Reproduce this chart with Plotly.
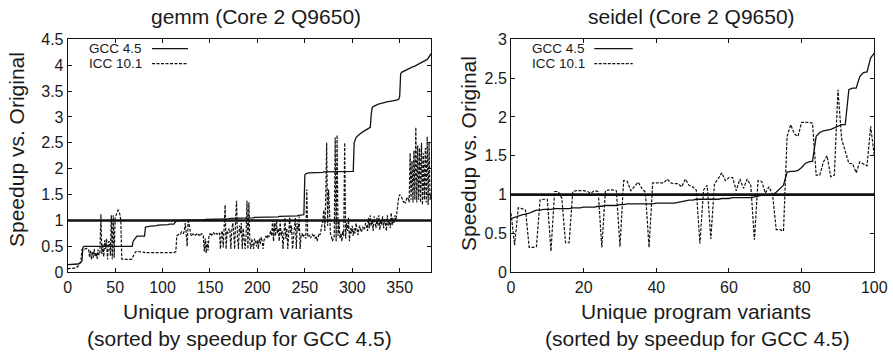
import plotly.graph_objects as go

# ---------------- data: gemm (Core 2 Q9650) ----------------
gemm_gcc = [
    0.15,0.15,0.15,0.15,0.15,0.15,0.15,0.15,0.15,0.15,0.15,0.16,0.17,0.18,0.20,0.22,0.48,0.50,0.50,0.50,
    0.50,0.50,0.50,0.50,0.50,0.50,0.50,0.50,0.50,0.50,0.50,0.50,0.50,0.50,0.50,0.50,0.50,0.50,0.50,0.50,
    0.50,0.50,0.50,0.50,0.50,0.50,0.50,0.50,0.50,0.50,0.50,0.50,0.50,0.50,0.50,0.50,0.50,0.50,0.50,0.50,
    0.50,0.50,0.50,0.50,0.50,0.50,0.50,0.50,0.50,0.60,0.63,0.66,0.69,0.70,0.70,0.70,0.70,0.70,0.70,0.70,
    0.70,0.70,0.87,0.88,0.88,0.88,0.89,0.89,0.89,0.89,0.90,0.90,0.90,0.90,0.90,0.91,0.91,0.91,0.91,0.91,
    0.91,0.92,0.92,0.92,0.92,0.92,0.92,0.93,0.93,0.93,0.93,0.93,0.93,0.96,0.99,1.00,1.00,1.00,1.00,1.00,
    1.00,1.00,1.00,1.00,1.00,1.00,1.00,1.00,1.00,1.00,1.01,1.01,1.01,1.01,1.01,1.01,1.01,1.01,1.01,1.01,
    1.01,1.01,1.01,1.01,1.01,1.02,1.02,1.02,1.02,1.02,1.02,1.02,1.02,1.02,1.02,1.02,1.02,1.02,1.03,1.03,
    1.03,1.03,1.03,1.03,1.03,1.03,1.03,1.03,1.03,1.03,1.03,1.04,1.04,1.04,1.04,1.04,1.04,1.04,1.04,1.04,
    1.04,1.04,1.04,1.04,1.05,1.05,1.05,1.05,1.05,1.05,1.05,1.05,1.05,1.05,1.05,1.05,1.05,1.06,1.06,1.06,
    1.06,1.06,1.06,1.06,1.06,1.06,1.06,1.06,1.06,1.06,1.07,1.07,1.07,1.07,1.07,1.07,1.07,1.07,1.07,1.07,
    1.07,1.07,1.07,1.08,1.08,1.08,1.08,1.08,1.08,1.08,1.08,1.08,1.08,1.08,1.08,1.08,1.09,1.09,1.09,1.09,
    1.09,1.09,1.09,1.10,1.10,1.10,1.10,1.11,1.11,1.12,1.88,1.90,1.91,1.91,1.92,1.92,1.92,1.92,1.93,1.93,
    1.93,1.93,1.93,1.93,1.93,1.93,1.93,1.93,1.93,1.93,1.94,1.94,1.94,1.94,1.94,1.94,1.94,1.94,1.94,1.94,
    1.94,1.94,1.94,1.94,1.94,1.94,1.94,1.94,1.94,1.94,1.95,1.95,1.95,1.95,1.95,1.95,1.95,1.95,1.95,1.95,
    1.95,1.95,2.50,2.56,2.60,2.62,2.64,2.66,2.68,2.69,2.70,2.71,2.72,2.73,2.74,2.75,2.76,2.78,2.79,2.80,
    3.05,3.18,3.20,3.21,3.22,3.23,3.24,3.24,3.25,3.25,3.26,3.26,3.27,3.27,3.28,3.28,3.29,3.29,3.30,3.30,
    3.30,3.31,3.31,3.31,3.32,3.32,3.32,3.33,3.33,3.34,3.40,3.83,3.86,3.87,3.88,3.89,3.90,3.91,3.92,3.93,
    3.94,3.94,3.95,3.96,3.97,3.97,3.98,3.99,4.00,4.00,4.01,4.02,4.03,4.04,4.05,4.06,4.07,4.08,4.09,4.11,
    4.13,4.16,4.19,4.22,
]
gemm_icc = [
    0.07,0.07,0.07,0.07,0.07,0.07,0.07,0.08,0.08,0.09,0.10,0.12,0.15,0.18,0.20,0.44,0.46,0.46,0.45,0.46,
    0.46,0.45,0.44,0.30,0.42,0.25,0.40,0.28,0.45,0.30,0.38,0.26,0.44,0.33,0.40,1.12,0.35,0.55,0.30,0.62,
    0.45,0.65,0.25,0.58,0.60,0.32,1.10,0.25,1.10,0.28,1.05,1.10,1.18,1.20,1.18,1.12,1.00,0.26,0.25,0.25,
    0.25,0.25,0.25,0.25,0.25,0.25,0.25,0.25,0.27,0.32,0.36,0.38,0.40,0.41,0.41,0.40,0.40,0.39,0.40,0.39,
    0.39,0.38,0.39,0.38,0.38,0.38,0.38,0.38,0.38,0.37,0.38,0.37,0.38,0.37,0.37,0.37,0.38,0.37,0.37,0.37,
    0.37,0.37,0.38,0.37,0.37,0.37,0.37,0.38,0.37,0.37,0.38,0.37,0.38,0.39,0.40,0.70,0.72,0.73,0.75,0.74,
    0.78,0.76,0.75,0.80,0.95,0.72,0.50,1.03,0.90,0.75,0.72,0.70,0.74,0.73,0.70,0.72,0.74,0.71,0.73,0.72,
    0.70,0.75,0.72,0.70,0.40,0.65,0.37,0.60,0.42,0.72,0.75,0.70,0.74,0.72,0.76,0.73,0.72,0.75,0.74,0.73,
    0.76,0.45,0.75,0.80,0.48,0.78,1.30,0.45,0.80,0.75,0.85,0.80,0.45,0.82,0.95,0.78,0.45,1.00,1.38,0.65,
    0.45,0.90,0.75,0.95,0.45,0.85,0.65,0.45,0.70,1.38,0.45,1.35,0.60,0.45,0.65,0.55,0.45,0.65,0.60,0.50,
    0.62,0.45,0.65,0.55,0.68,0.60,0.45,0.62,0.66,0.70,0.65,0.72,0.68,0.75,0.80,0.70,1.00,0.60,0.95,0.70,
    1.02,0.75,0.85,0.60,1.00,0.70,0.80,0.45,0.90,1.05,0.65,0.85,0.45,0.95,1.05,0.75,0.90,0.45,0.70,0.80,
    1.05,0.45,0.95,0.80,1.08,0.45,0.70,0.75,0.68,0.72,0.70,0.65,1.60,0.70,0.68,0.72,0.66,0.70,0.74,0.68,
    0.72,0.65,0.70,0.60,0.68,0.75,0.72,0.80,0.90,1.00,1.20,0.80,1.40,2.50,0.90,1.60,1.20,0.75,0.70,0.60,
    0.65,0.70,2.60,0.60,2.65,0.70,1.00,0.65,0.75,0.60,0.80,0.70,2.50,0.65,0.95,0.80,1.05,0.60,0.85,0.75,
    0.90,0.70,0.85,0.75,0.95,0.80,0.72,0.85,0.90,0.78,0.80,0.88,0.82,0.85,0.95,0.90,0.80,1.05,0.85,1.10,
    0.90,1.00,0.80,1.08,0.95,0.85,1.05,0.90,1.10,0.82,1.00,0.92,1.08,0.85,1.02,0.95,0.80,1.10,0.90,1.00,
    0.85,1.15,0.90,1.05,0.95,1.10,1.00,1.20,1.35,1.45,1.50,1.48,1.45,1.40,1.35,1.38,1.33,1.40,1.45,1.42,
    1.35,2.30,1.40,2.15,1.35,2.35,1.40,2.80,1.35,2.45,1.40,2.40,1.35,2.50,1.30,2.30,1.40,2.40,1.35,2.62,
    1.30,2.50,1.40,1.50,
]
gemm_x = list(range(len(gemm_gcc)))
gemm_icc_x = list(range(len(gemm_icc)))

# ---------------- data: seidel (Core 2 Q9650) ----------------
seidel_gcc = [
    0.69,0.71,0.72,0.74,0.75,0.76,0.78,0.80,0.80,0.81,0.81,0.81,0.82,0.82,0.82,0.82,0.82,0.83,0.83,0.83,
    0.84,0.84,0.84,0.84,0.85,0.85,0.86,0.86,0.86,0.86,0.87,0.87,0.88,0.88,0.88,0.88,0.88,0.88,0.88,0.88,
    0.89,0.89,0.89,0.89,0.89,0.89,0.90,0.91,0.92,0.93,0.93,0.94,0.94,0.94,0.94,0.94,0.94,0.94,0.95,0.95,
    0.95,0.96,0.96,0.96,0.96,0.96,0.96,0.97,0.98,0.99,1.00,1.00,1.00,1.03,1.07,1.12,1.29,1.30,1.30,1.31,
    1.35,1.40,1.42,1.43,1.75,1.80,1.82,1.83,1.84,1.86,1.88,1.90,1.90,2.35,2.37,2.37,2.52,2.57,2.58,2.76,
    2.82,
]
seidel_icc = [
    0.76,0.35,0.83,0.82,0.80,0.32,0.32,0.33,0.93,0.94,0.94,0.27,1.04,1.04,0.95,0.38,0.38,1.04,1.05,1.05,
    1.05,1.04,1.02,1.05,1.04,0.32,1.05,1.06,1.06,1.05,0.33,1.18,1.17,1.05,1.10,1.16,1.08,1.03,0.32,1.15,
    1.15,1.15,1.15,1.20,1.15,1.14,1.14,1.10,1.20,1.12,1.10,1.06,0.37,1.06,1.12,0.43,1.14,1.20,1.28,1.18,
    1.22,1.22,1.05,1.20,1.08,1.20,1.12,0.42,1.18,1.17,1.02,1.10,1.00,0.55,0.55,0.53,1.75,1.90,1.78,1.75,
    1.93,1.93,1.93,1.92,1.25,1.25,1.42,1.50,1.23,1.25,2.35,1.72,1.55,1.40,1.40,1.28,1.42,1.40,1.37,1.88,
    1.50,
]
seidel_x = list(range(len(seidel_gcc)))
seidel_icc_x = list(range(len(seidel_icc)))

titles = ["gemm (Core 2 Q9650)", "seidel (Core 2 Q9650)"]
legend_names = ["GCC 4.5", "ICC 10.1"]
ytitle = "Speedup vs. Original"
xtitle1 = "Unique program variants"
xtitle2 = "(sorted by speedup for GCC 4.5)"

# ---------------- figure ----------------
W, H = 893, 354
FONT = "Liberation Sans, Arial, Helvetica, sans-serif"
INK = "#111111"

def px(x):
    return x / W

def py(y):
    return 1 - y / H

fig = go.Figure()

line_solid = dict(color=INK, width=1.3)
line_dash = dict(color=INK, width=1.2, dash="3px,1.5px")

fig.add_trace(go.Scatter(x=gemm_x, y=gemm_gcc, mode="lines", line=line_solid,
                         xaxis="x", yaxis="y", showlegend=False, name=legend_names[0]))
fig.add_trace(go.Scatter(x=gemm_icc_x, y=gemm_icc, mode="lines", line=line_dash,
                         xaxis="x", yaxis="y", showlegend=False, name=legend_names[1]))
fig.add_trace(go.Scatter(x=seidel_x, y=seidel_gcc, mode="lines", line=line_solid,
                         xaxis="x2", yaxis="y2", showlegend=False, name=legend_names[0]))
fig.add_trace(go.Scatter(x=seidel_icc_x, y=seidel_icc, mode="lines", line=line_dash,
                         xaxis="x2", yaxis="y2", showlegend=False, name=legend_names[1]))

# plot areas (pixels): left 67.7..431 x 39.3..272.3 ; right 511..874.3 x 39..271.7
ydom = [py(272.3), py(39.2)]
axis_common = dict(showline=True, linecolor=INK, linewidth=1, mirror="ticks",
                   ticks="inside", ticklen=4, tickcolor=INK, tickwidth=1,
                   showgrid=False, zeroline=False, automargin=False,
                   tickfont=dict(family=FONT, size=16, color="#1a1a1a"))

fig.update_layout(
    width=W, height=H,
    margin=dict(l=0, r=0, t=0, b=0, pad=0, autoexpand=False),
    paper_bgcolor="white", plot_bgcolor="white",
    showlegend=False,
    xaxis=dict(domain=[px(67.7), px(431)], range=[0, 383], tick0=0, dtick=50,
               anchor="y", **axis_common),
    yaxis=dict(domain=ydom, range=[0, 4.5], tick0=0, dtick=0.5, anchor="x",
               **axis_common),
    xaxis2=dict(domain=[px(511), px(874.3)], range=[0, 100], tick0=0, dtick=20,
                anchor="y2", **axis_common),
    yaxis2=dict(domain=ydom, range=[0, 3], tick0=0, dtick=0.5, anchor="x2",
                **axis_common),
)

# reference line at speedup = 1
for xr, yr in (("x domain", "y"), ("x2 domain", "y2")):
    fig.add_shape(type="line", xref=xr, yref=yr, x0=0, x1=1, y0=1, y1=1,
                  line=dict(color=INK, width=2.6), layer="above")

ann = []
big = dict(family=FONT, size=21, color="#1a1a1a")
# titles
ann.append(dict(x=px(255.7), y=py(16), text=titles[0], font=big))
ann.append(dict(x=px(691.7), y=py(16), text=titles[1], font=big))
# y titles
ann.append(dict(x=px(16), y=py(150), text=ytitle, font=big, textangle=-90))
ann.append(dict(x=px(468.5), y=py(153.5), text=ytitle, font=big, textangle=-90))
# x titles
ann.append(dict(x=px(237.5), y=py(311.5), text=xtitle1, font=big))
ann.append(dict(x=px(239.5), y=py(338.5), text=xtitle2, font=big))
ann.append(dict(x=px(696), y=py(311.5), text=xtitle1, font=big))
ann.append(dict(x=px(697.5), y=py(338.5), text=xtitle2, font=big))

# legends (gnuplot style: right-aligned text, sample to the right)
small = dict(family=FONT, size=13.5, color="#1a1a1a")
legend_pos = [(142.7, 152, 188), (586, 594.3, 632.7)]
legend_rows = [(48.6, line_solid), (63.6, line_dash)]
for tx, lx0, lx1 in legend_pos:
    for name, (yy, ls) in zip(legend_names, legend_rows):
        ann.append(dict(x=px(tx), y=py(yy), text=name, font=small, xanchor="right"))
        fig.add_shape(type="line", xref="paper", yref="paper",
                      x0=px(lx0), x1=px(lx1), y0=py(yy), y1=py(yy), line=ls)

for a in ann:
    a.setdefault("xanchor", "center")
    a.update(xref="paper", yref="paper", yanchor="middle", showarrow=False,
             borderpad=0)
    fig.add_annotation(**a)

fig.write_html("out.html",
               config={"displayModeBar": False},
               post_script="document.body.style.margin='0px';"
                           "document.body.style.overflow='hidden';")
